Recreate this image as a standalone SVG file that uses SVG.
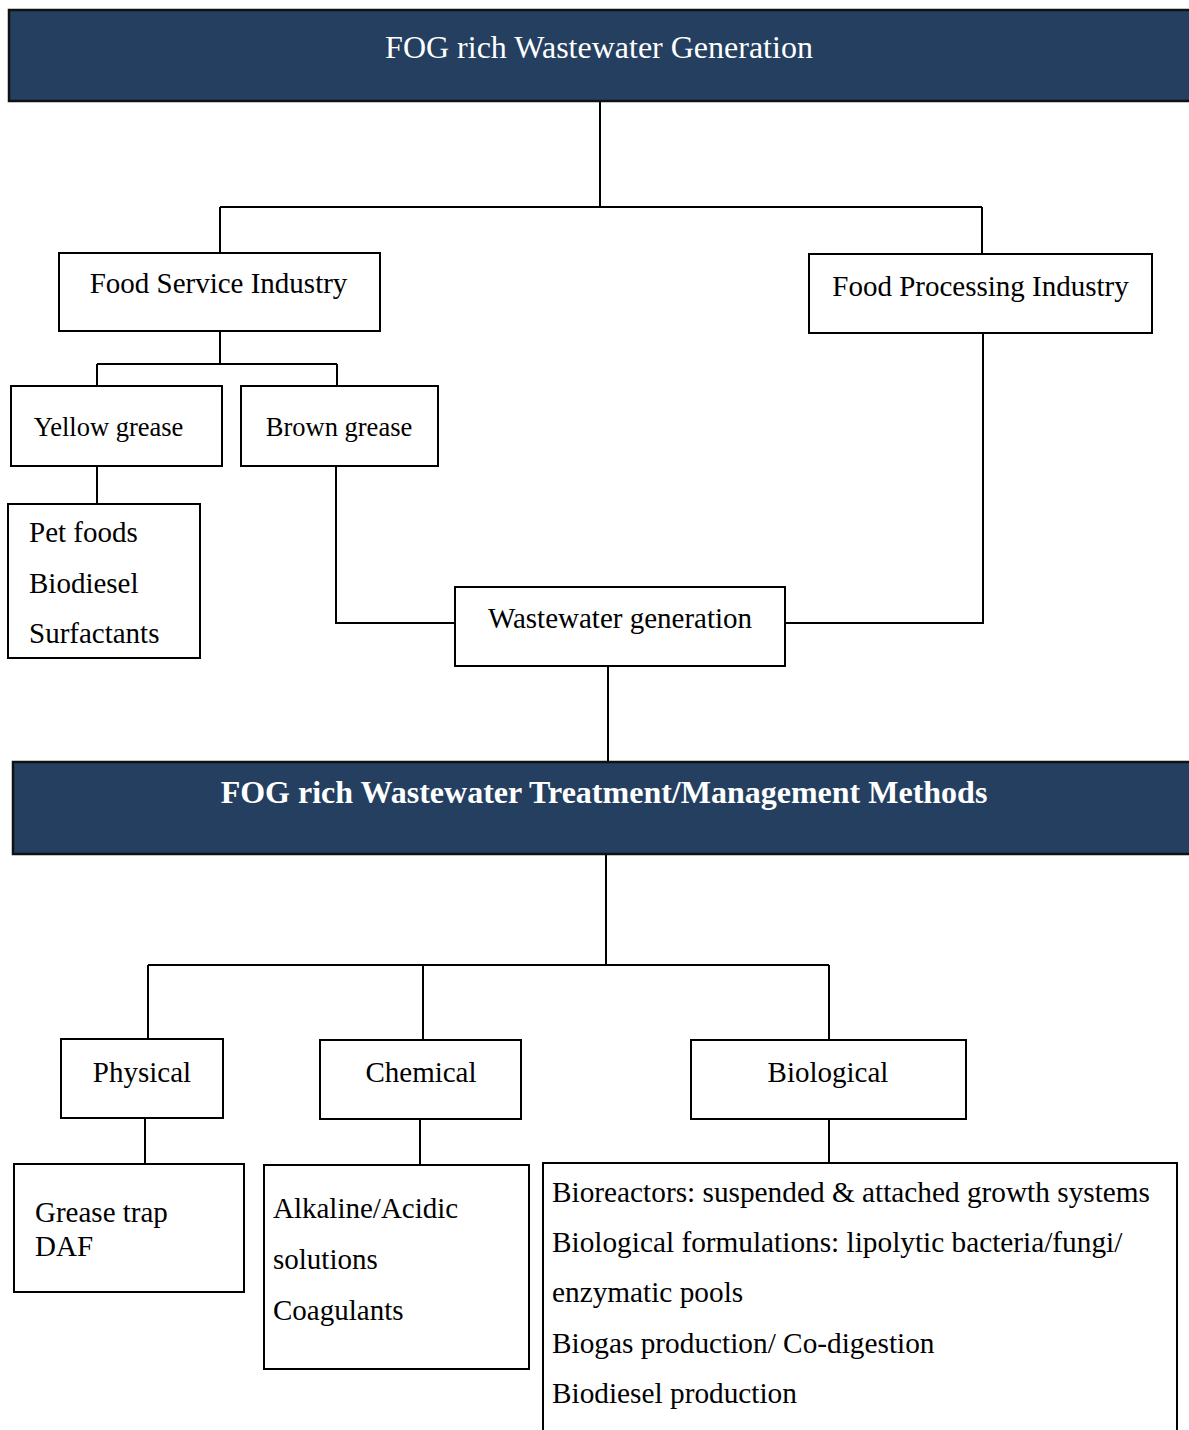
<svg xmlns="http://www.w3.org/2000/svg" width="1189" height="1430" viewBox="0 0 1189 1430">
<style>
.box{fill:#ffffff;stroke:#000000;stroke-width:2}
.banner{fill:#243f60;stroke:#111111;stroke-width:2.5}
.t{font-family:"Liberation Serif","Times New Roman",serif;font-size:29px;fill:#000000}
.s{font-size:26.5px}
.l{font-size:29.3px}
.c{text-anchor:middle}
.bt{font-family:"Liberation Serif","Times New Roman",serif;font-size:32px;fill:#ffffff;text-anchor:middle}
.b{font-weight:bold}
.ln{fill:none;stroke:#000000;stroke-width:2}
</style>
<rect width="1189" height="1430" fill="#ffffff"/>
<g id="connectors">
<path class="ln" d="M600,101 V207 M220,207 H982 M220,207 V252 M982,207 V254"/>
<path class="ln" d="M220,331 V364 M97,364 H337 M97,364 V386 M337,364 V386"/>
<path class="ln" d="M97,466 V504"/>
<path class="ln" d="M336,466 V623 H455"/>
<path class="ln" d="M983,333 V623 H785"/>
<path class="ln" d="M608,666 V762"/>
<path class="ln" d="M606,854 V965 M148,965 H829 M148,965 V1039 M423,965 V1040 M829,965 V1040"/>
<path class="ln" d="M145,1118 V1164"/>
<path class="ln" d="M420,1119 V1165"/>
<path class="ln" d="M829,1119 V1163"/>
</g>
<g id="banner-generation">
<rect class="banner" x="9" y="10" width="1200" height="91"/>
<text class="bt" x="599" y="58">FOG rich Wastewater Generation</text>
</g>
<g id="food-service">
<rect class="box" x="59" y="253" width="321" height="78"/>
<text class="t c" x="218.5" y="293">Food Service Industry</text>
</g>
<g id="food-processing">
<rect class="box" x="809" y="254" width="343" height="79"/>
<text class="t c" x="980.5" y="296">Food Processing Industry</text>
</g>
<g id="yellow-grease">
<rect class="box" x="11" y="386" width="211" height="80"/>
<text class="t s c" x="108.5" y="436">Yellow grease</text>
</g>
<g id="brown-grease">
<rect class="box" x="241" y="386" width="197" height="80"/>
<text class="t s c" x="339" y="436">Brown grease</text>
</g>
<g id="yellow-uses">
<rect class="box" x="8" y="504" width="192" height="154"/>
<text class="t" x="29" y="542">Pet foods</text>
<text class="t" x="29" y="593">Biodiesel</text>
<text class="t" x="29" y="643">Surfactants</text>
</g>
<g id="wastewater-generation">
<rect class="box" x="455" y="587" width="330" height="79"/>
<text class="t c" x="620" y="628">Wastewater generation</text>
</g>
<g id="banner-treatment">
<rect class="banner" x="13" y="762" width="1200" height="92"/>
<text class="bt b" x="604" y="803">FOG rich Wastewater Treatment/Management Methods</text>
</g>
<g id="physical">
<rect class="box" x="61" y="1039" width="162" height="79"/>
<text class="t c" x="142" y="1082">Physical</text>
</g>
<g id="chemical">
<rect class="box" x="320" y="1040" width="201" height="79"/>
<text class="t c" x="421" y="1082">Chemical</text>
</g>
<g id="biological">
<rect class="box" x="691" y="1040" width="275" height="79"/>
<text class="t c" x="828" y="1082">Biological</text>
</g>
<g id="physical-methods">
<rect class="box" x="14" y="1164" width="230" height="128"/>
<text class="t" x="35" y="1222">Grease trap</text>
<text class="t" x="35" y="1256">DAF</text>
</g>
<g id="chemical-methods">
<rect class="box" x="264" y="1165" width="265" height="204"/>
<text class="t" x="273" y="1218">Alkaline/Acidic</text>
<text class="t" x="273" y="1269">solutions</text>
<text class="t" x="273" y="1320">Coagulants</text>
</g>
<g id="biological-methods">
<path class="ln" d="M543,1440 V1163 H1177 V1440"/>
<text class="t l" x="552" y="1202">Bioreactors: suspended &amp; attached growth systems</text>
<text class="t l" x="552" y="1252">Biological formulations: lipolytic bacteria/fungi/</text>
<text class="t l" x="552" y="1302">enzymatic pools</text>
<text class="t l" x="552" y="1353">Biogas production/ Co-digestion</text>
<text class="t l" x="552" y="1403">Biodiesel production</text>
</g>
</svg>
